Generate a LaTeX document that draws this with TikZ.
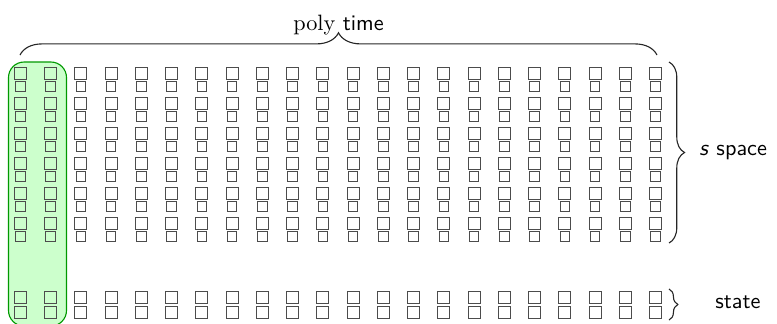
\documentclass[tikz,border=0pt]{standalone}
\usetikzlibrary{decorations.pathreplacing}
\begin{document}
\begin{tikzpicture}[x=0.45pt,y=-0.45pt,
  bigsq/.style={draw=black!70,line width=0.45pt,minimum width=12*0.45pt,minimum height=12*0.45pt,inner sep=0pt,outer sep=0pt},
  smallsq/.style={draw=black!70,line width=0.45pt,minimum width=9.5*0.45pt,minimum height=9.5*0.45pt,inner sep=0pt,outer sep=0pt},
  bracestyle/.style={draw=black!85,line width=0.5pt,decorate,decoration={brace,amplitude=#1}},
  lbl/.style={inner sep=0pt,font=\sffamily}]
\useasboundingbox (0,0) rectangle (777,323);
% green column highlight
\filldraw[fill=green!20,draw=green!60!black,line width=0.5pt,rounded corners=7pt] (8.5,62) rectangle (66.5,326);
% main grid
\foreach \i in {0,...,21}{
  \foreach \j in {0,...,5}{
    \node[bigsq] (b-\i-\j) at ({20.5+30.24*\i},{73+30*\j}) {};
    \node[smallsq] (s-\i-\j) at ({20.5+30.24*\i},{86.5+30*\j}) {};
  }
  \node[bigsq] (t-\i) at ({20.5+30.24*\i},297.5) {};
  \node[bigsq] (u-\i) at ({20.5+30.24*\i},312.5) {};
}
% top brace
\coordinate (tl) at (20,55);
\coordinate (tr) at (657,55);
\draw[bracestyle=10pt] (tl) -- (tr) node[midway,yshift=13.5pt,lbl] (poly) {\rmfamily poly \sffamily time};
% right brace (space)
\coordinate (rt) at (669,62);
\coordinate (rb) at (669,243);
\draw[bracestyle=7pt] (rt) -- (rb);
\node[lbl,anchor=west] (space) at (699,153) {\textit{s} space};
% state brace
\coordinate (st) at (669,289);
\coordinate (sb) at (669,320);
\draw[bracestyle=4pt] (st) -- (sb);
\node[lbl] (state) at (738,302) {state};
\end{tikzpicture}
\end{document}
